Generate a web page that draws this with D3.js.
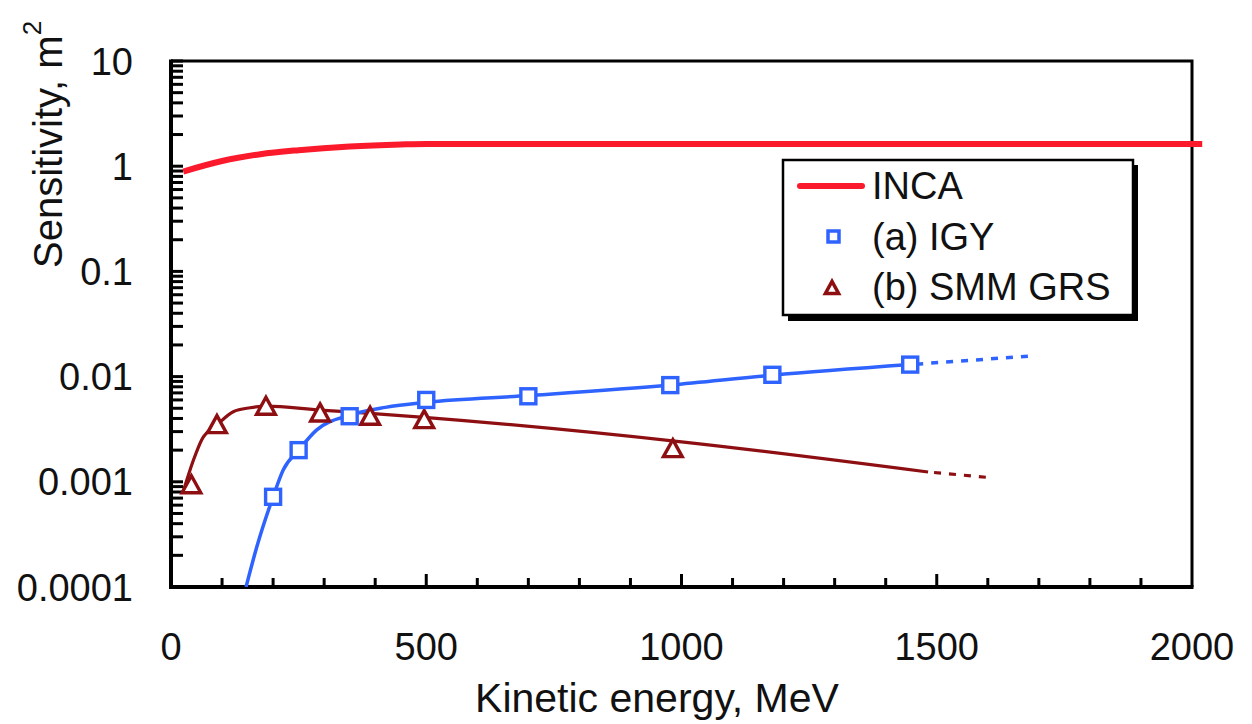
<!DOCTYPE html>
<html>
<head>
<meta charset="utf-8">
<script src="https://cdn.jsdelivr.net/npm/d3@7/dist/d3.min.js"></script>
<style>
  html, body { margin: 0; padding: 0; background: #fff; }
  svg { display: block; font-family: "Liberation Sans", Arial, sans-serif; }
</style>
</head>
<body>
<svg id="chart" width="1252" height="724"></svg>
<script>
// Detector sensitivity vs. proton kinetic energy

// INCA sensitivity curve (MeV, m^2)
const incaEnergy = [24, 100, 175, 250, 350, 450, 500, 2020];
const incaValue  = [0.89, 1.12, 1.30, 1.42, 1.54, 1.61, 1.63, 1.63];

// (a) IGY neutron monitor: measured points
const igyEnergy = [200, 250, 350, 500, 700, 978, 1178, 1448];
const igyValue  = [0.00072, 0.0020, 0.0042, 0.0060, 0.0065, 0.0083, 0.0104, 0.0130];
// IGY fitted curve (solid) and extrapolation (dotted)
const igyFitEnergy = [147, 168, 200, 220, 250, 285, 350, 420, 500, 700, 978, 1178, 1448];
const igyFitValue  = [0.0001, 0.00024, 0.00072, 0.0013, 0.0020, 0.0031, 0.0043, 0.0051, 0.0057, 0.0066, 0.0083, 0.0103, 0.0130];
const igyExtEnergy = [1448, 1683];
const igyExtValue  = [0.0130, 0.0157];

// (b) SMM GRS: measured points
const smmEnergy = [40, 90, 186, 292, 390, 496, 983];
const smmValue  = [0.00093, 0.00347, 0.00518, 0.00448, 0.00416, 0.00387, 0.00205];
// SMM GRS fitted curve (solid) and extrapolation (dotted)
const smmFitEnergy = [24, 44, 60, 90, 122, 155, 186, 292, 390, 496, 1000, 1483];
const smmFitValue  = [0.00081, 0.00161, 0.0025, 0.00347, 0.00464, 0.00506, 0.00525, 0.00481, 0.00448, 0.0041, 0.0024, 0.00124];
const smmExtEnergy = [1483, 1610];
const smmExtValue  = [0.00124, 0.00109];

// Axis ticks
const xTickLabels = [0, 500, 1000, 1500, 2000];
const yTickLabels = ["0.0001", "0.001", "0.01", "0.1", "1", "10"];

const legendLabels = ["INCA", "(a) IGY", "(b) SMM GRS"];

const colINCA = "#fb1a2c";
const colIGY  = "#2f63ff";
const colSMM  = "#8e0f12";

const svg = d3.select("#chart");
const plotL = 171, plotR = 1192, plotT = 61, plotB = 587;

const x = d3.scaleLinear().domain([0, 2000]).range([plotL, plotR]);
const y = d3.scaleLog().domain([0.0001, 10]).range([plotB, plotT]);

const pts = (ex, vals) => ex.map((e, i) => [e, vals[i]]);
const line = d3.line().x(d => x(d[0])).y(d => y(d[1])).curve(d3.curveMonotoneX);
const straight = d3.line().x(d => x(d[0])).y(d => y(d[1]));

// Frame: top and right plain lines
svg.append("path")
  .attr("d", `M${plotL},${plotT}H${plotR}V${plotB}`)
  .attr("fill", "none").attr("stroke", "#000").attr("stroke-width", 3);

// X axis with inward ticks every 100 MeV
const xMinor = d3.range(0, 2001, 100);
const xAxis = svg.append("g").attr("transform", `translate(0,${plotB})`);
xAxis.selectAll("line.tick").data(xMinor.filter(v => v > 0 && v < 2000)).enter()
  .append("line")
  .attr("x1", d => x(d)).attr("x2", d => x(d))
  .attr("y1", 0).attr("y2", d => d % 500 === 0 ? -13 : -9)
  .attr("stroke", "#000").attr("stroke-width", 3);
xAxis.append("line").attr("x1", plotL - 2).attr("x2", plotR + 1.5)
  .attr("y1", 0).attr("y2", 0).attr("stroke", "#000").attr("stroke-width", 4);
xAxis.selectAll("text").data(xTickLabels).enter().append("text")
  .attr("x", d => x(d)).attr("y", 73)
  .attr("text-anchor", "middle").attr("font-size", 38).attr("fill", "#111")
  .text(d => d);

// Y axis with inward log ticks
const yAxis = svg.append("g").attr("transform", `translate(${plotL},0)`);
const yMinor = [];
for (let e = -4; e < 1; e++) for (let m = 1; m < 10; m++) yMinor.push(m * Math.pow(10, e));
yMinor.push(10);
yAxis.selectAll("line.tick").data(yMinor).enter().append("line")
  .attr("x1", 0).attr("x2", 12)
  .attr("y1", d => y(d)).attr("y2", d => y(d))
  .attr("stroke", "#000").attr("stroke-width", 3);
yAxis.append("line").attr("x1", 0).attr("x2", 0)
  .attr("y1", plotT - 1.5).attr("y2", plotB + 2)
  .attr("stroke", "#000").attr("stroke-width", 4);
yAxis.selectAll("text").data(yTickLabels).enter().append("text")
  .attr("x", -38).attr("y", d => y(+d))
  .attr("dy", "0.36em")
  .attr("text-anchor", "end").attr("font-size", 38).attr("fill", "#111")
  .text(d => d);

// Axis titles
svg.append("text")
  .attr("x", 657).attr("y", 712)
  .attr("text-anchor", "middle").attr("font-size", 41).attr("fill", "#111")
  .text("Kinetic energy, MeV");

const yTitle = svg.append("text")
  .attr("transform", "translate(62,268) rotate(-90)")
  .attr("text-anchor", "start").attr("font-size", 40).attr("fill", "#111");
yTitle.append("tspan").text("Sensitivity, m");
yTitle.append("tspan").attr("font-size", 26).attr("dy", "-0.8em").text("2");

// Data layer (clipped to the plot area; the INCA line runs a little past the right edge)
const clip = svg.append("clipPath").attr("id", "plotclip");
clip.append("rect").attr("x", plotL).attr("y", plotT).attr("width", plotR - plotL + 20).attr("height", plotB - plotT);
const plot = svg.append("g").attr("clip-path", "url(#plotclip)");

// SMM GRS curve
plot.append("path").attr("d", line(pts(smmFitEnergy, smmFitValue)))
  .attr("fill", "none").attr("stroke", colSMM).attr("stroke-width", 3.2);
plot.append("path").attr("d", straight(pts(smmExtEnergy, smmExtValue)))
  .attr("fill", "none").attr("stroke", colSMM).attr("stroke-width", 3.2)
  .attr("stroke-dasharray", "7,8").attr("stroke-dashoffset", -6);

// IGY curve
plot.append("path").attr("d", line(pts(igyFitEnergy, igyFitValue)))
  .attr("fill", "none").attr("stroke", colIGY).attr("stroke-width", 3.5);
plot.append("path").attr("d", straight(pts(igyExtEnergy, igyExtValue)))
  .attr("fill", "none").attr("stroke", colIGY).attr("stroke-width", 3.5)
  .attr("stroke-dasharray", "7,8").attr("stroke-dashoffset", -6);

// INCA curve
plot.append("path").attr("d", line(pts(incaEnergy, incaValue)))
  .attr("fill", "none").attr("stroke", colINCA).attr("stroke-width", 6);

// Markers
const triPath = s => `M0,${-s * 0.55}L${s * 0.55},${s * 0.45}L${-s * 0.55},${s * 0.45}Z`;
svg.append("g").selectAll("path").data(pts(smmEnergy, smmValue)).enter().append("path")
  .attr("transform", d => `translate(${x(d[0])},${y(d[1])})`)
  .attr("d", triPath(17))
  .attr("fill", "#fff").attr("stroke", colSMM).attr("stroke-width", 3.4)
  .attr("stroke-linejoin", "miter");

svg.append("g").selectAll("rect").data(pts(igyEnergy, igyValue)).enter().append("rect")
  .attr("x", d => x(d[0]) - 7.5).attr("y", d => y(d[1]) - 7.5)
  .attr("width", 15).attr("height", 15)
  .attr("fill", "#fff").attr("stroke", colIGY).attr("stroke-width", 3.4);

// Legend
const lg = svg.append("g");
lg.append("rect").attr("x", 788).attr("y", 165).attr("width", 350).attr("height", 156).attr("fill", "#000");
lg.append("rect").attr("x", 783).attr("y", 160).attr("width", 350).attr("height", 155)
  .attr("fill", "#fff").attr("stroke", "#000").attr("stroke-width", 2.5);
lg.append("line").attr("x1", 800).attr("x2", 862).attr("y1", 186).attr("y2", 186)
  .attr("stroke", colINCA).attr("stroke-width", 6).attr("stroke-linecap", "round");
lg.append("rect").attr("x", 828).attr("y", 231).attr("width", 11).attr("height", 11)
  .attr("fill", "#fff").attr("stroke", colIGY).attr("stroke-width", 3.5);
lg.append("path").attr("transform", "translate(832,288)").attr("d", triPath(12))
  .attr("fill", "#fff").attr("stroke", colSMM).attr("stroke-width", 3.5);
lg.selectAll("text").data(legendLabels).enter().append("text")
  .attr("x", 872).attr("y", (d, i) => 199 + i * 50.5)
  .attr("font-size", 38).attr("fill", "#111")
  .text(d => d);
</script>
</body>
</html>
